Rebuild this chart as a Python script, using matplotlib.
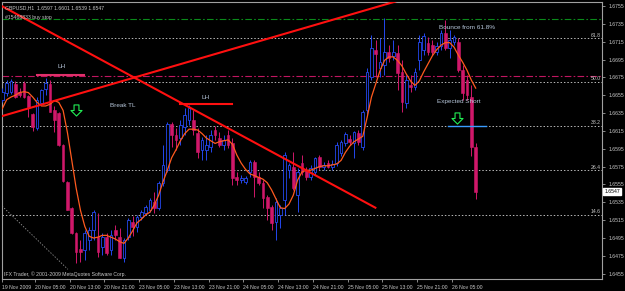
import matplotlib
matplotlib.use("Agg")
import matplotlib.pyplot as plt
import numpy as np
from matplotlib.path import Path

# ---------------- data ----------------
opens = [1.6650, 1.6658, 1.6659, 1.6668, 1.6659, 1.6669, 1.6654, 1.6634, 1.6618, 1.6646,
         1.6662, 1.6668, 1.6638, 1.6635, 1.6599, 1.6558, 1.6529, 1.6501, 1.6483, 1.6482,
         1.6493, 1.6504, 1.6496, 1.6485, 1.6496, 1.6482, 1.6504, 1.6496, 1.6473, 1.6496,
         1.6513, 1.6507, 1.6519, 1.6523, 1.6526, 1.6535, 1.6529, 1.6557, 1.6571, 1.6623,
         1.6610, 1.6607, 1.6619, 1.6627, 1.6627, 1.6613, 1.6594, 1.6594, 1.6597, 1.6616,
         1.6607, 1.6599, 1.6610, 1.6601, 1.6563, 1.6560, 1.6558, 1.6569, 1.6580, 1.6563,
         1.6557, 1.6541, 1.6530, 1.6513, 1.6521, 1.6538, 1.6571, 1.6575, 1.6543, 1.6579,
         1.6571, 1.6563, 1.6569, 1.6586, 1.6575, 1.6579, 1.6575, 1.6579, 1.6590, 1.6601,
         1.6606, 1.6601, 1.6613, 1.6597, 1.6638, 1.6675, 1.6706, 1.6686, 1.6689, 1.6703,
         1.6699, 1.6702, 1.6681, 1.6646, 1.6666, 1.6664, 1.6694, 1.6706, 1.6714, 1.6711,
         1.6703, 1.6710, 1.6725, 1.6708, 1.6715, 1.6715, 1.6683, 1.6672, 1.6653, 1.6597]
highs = [1.6663, 1.6672, 1.6673, 1.6671, 1.6663, 1.6671, 1.6655, 1.6635, 1.6653, 1.6662,
         1.6674, 1.6672, 1.6643, 1.6636, 1.6600, 1.6559, 1.6530, 1.6502, 1.6493, 1.6504,
         1.6507, 1.6526, 1.6523, 1.6501, 1.6501, 1.6504, 1.6510, 1.6506, 1.6495, 1.6517,
         1.6520, 1.6521, 1.6526, 1.6532, 1.6540, 1.6547, 1.6559, 1.6599, 1.6625, 1.6625,
         1.6618, 1.6627, 1.6641, 1.6644, 1.6638, 1.6618, 1.6608, 1.6610, 1.6616, 1.6621,
         1.6614, 1.6610, 1.6616, 1.6607, 1.6569, 1.6566, 1.6565, 1.6582, 1.6582, 1.6569,
         1.6560, 1.6543, 1.6532, 1.6540, 1.6532, 1.6591, 1.6579, 1.6591, 1.6573, 1.6588,
         1.6575, 1.6577, 1.6586, 1.6588, 1.6580, 1.6582, 1.6582, 1.6603, 1.6605, 1.6614,
         1.6610, 1.6615, 1.6616, 1.6638, 1.6686, 1.6722, 1.6717, 1.6719, 1.6742, 1.6711,
         1.6717, 1.6711, 1.6694, 1.6678, 1.6678, 1.6686, 1.6722, 1.6725, 1.6720, 1.6717,
         1.6715, 1.6728, 1.6739, 1.6728, 1.6722, 1.6719, 1.6689, 1.6678, 1.6666, 1.6601]
lows = [1.6647, 1.6654, 1.6656, 1.6652, 1.6653, 1.6652, 1.6631, 1.6615, 1.6616, 1.6644,
        1.6655, 1.6636, 1.6614, 1.6598, 1.6558, 1.6526, 1.6500, 1.6467, 1.6468, 1.6470,
        1.6482, 1.6493, 1.6474, 1.6476, 1.6476, 1.6476, 1.6493, 1.6473, 1.6468, 1.6493,
        1.6497, 1.6502, 1.6515, 1.6521, 1.6524, 1.6523, 1.6526, 1.6553, 1.6569, 1.6597,
        1.6594, 1.6599, 1.6610, 1.6622, 1.6610, 1.6585, 1.6582, 1.6582, 1.6591, 1.6605,
        1.6597, 1.6594, 1.6596, 1.6554, 1.6554, 1.6557, 1.6556, 1.6563, 1.6541, 1.6554,
        1.6529, 1.6515, 1.6504, 1.6493, 1.6506, 1.6521, 1.6562, 1.6549, 1.6524, 1.6566,
        1.6560, 1.6560, 1.6566, 1.6571, 1.6571, 1.6573, 1.6571, 1.6576, 1.6587, 1.6598,
        1.6599, 1.6585, 1.6599, 1.6594, 1.6633, 1.6672, 1.6675, 1.6675, 1.6678, 1.6692,
        1.6694, 1.6661, 1.6636, 1.6641, 1.6659, 1.6661, 1.6683, 1.6700, 1.6700, 1.6700,
        1.6700, 1.6706, 1.6706, 1.6697, 1.6711, 1.6681, 1.6650, 1.6650, 1.6587, 1.6539]
closes = [1.6659, 1.6669, 1.6671, 1.6653, 1.6655, 1.6653, 1.6642, 1.6619, 1.6650, 1.6661,
          1.6669, 1.6636, 1.6627, 1.6599, 1.6559, 1.6526, 1.6501, 1.6479, 1.6479, 1.6501,
          1.6504, 1.6524, 1.6479, 1.6496, 1.6478, 1.6498, 1.6498, 1.6473, 1.6493, 1.6515,
          1.6507, 1.6519, 1.6524, 1.6530, 1.6538, 1.6529, 1.6557, 1.6577, 1.6623, 1.6610,
          1.6605, 1.6622, 1.6633, 1.6641, 1.6616, 1.6591, 1.6605, 1.6599, 1.6610, 1.6610,
          1.6599, 1.6605, 1.6599, 1.6562, 1.6560, 1.6562, 1.6562, 1.6580, 1.6563, 1.6557,
          1.6540, 1.6529, 1.6512, 1.6535, 1.6529, 1.6588, 1.6577, 1.6551, 1.6569, 1.6569,
          1.6563, 1.6573, 1.6585, 1.6575, 1.6577, 1.6575, 1.6578, 1.6599, 1.6603, 1.6612,
          1.6603, 1.6614, 1.6603, 1.6636, 1.6681, 1.6708, 1.6701, 1.6692, 1.6703, 1.6697,
          1.6703, 1.6680, 1.6647, 1.6672, 1.6664, 1.6681, 1.6715, 1.6721, 1.6703, 1.6703,
          1.6710, 1.6725, 1.6708, 1.6717, 1.6720, 1.6683, 1.6658, 1.6655, 1.6597, 1.6547]
ma = [1.6640, 1.6650, 1.6653, 1.6655, 1.6658, 1.6659, 1.6658, 1.6653, 1.6647, 1.6643,
      1.6643, 1.6645, 1.6649, 1.6647, 1.6638, 1.6613, 1.6582, 1.6551, 1.6526, 1.6508,
      1.6497, 1.6495, 1.6496, 1.6498, 1.6498, 1.6496, 1.6494, 1.6491, 1.6489, 1.6495,
      1.6503, 1.6512, 1.6516, 1.6521, 1.6524, 1.6532, 1.6543, 1.6558, 1.6571, 1.6585,
      1.6594, 1.6604, 1.6612, 1.6617, 1.6617, 1.6616, 1.6612, 1.6607, 1.6604, 1.6601,
      1.6603, 1.6604, 1.6605, 1.6600, 1.6588, 1.6579, 1.6572, 1.6567, 1.6565, 1.6563,
      1.6561, 1.6557, 1.6549, 1.6539, 1.6529, 1.6528, 1.6533, 1.6543, 1.6560, 1.6569,
      1.6571, 1.6571, 1.6573, 1.6575, 1.6576, 1.6576, 1.6577, 1.6578, 1.6582, 1.6591,
      1.6598, 1.6603, 1.6606, 1.6609, 1.6630, 1.6653, 1.6668, 1.6683, 1.6694, 1.6698,
      1.6698, 1.6694, 1.6688, 1.6679, 1.6671, 1.6666, 1.6671, 1.6681, 1.6690, 1.6699,
      1.6706, 1.6711, 1.6714, 1.6714, 1.6709, 1.6700, 1.6692, 1.6683, 1.6672, 1.6663]

time_labels = ['19 Nov 2009', '20 Nov 05:00', '20 Nov 13:00', '20 Nov 21:00', '23 Nov 05:00',
               '23 Nov 13:00', '23 Nov 21:00', '24 Nov 05:00', '24 Nov 13:00', '24 Nov 21:00',
               '25 Nov 05:00', '25 Nov 13:00', '25 Nov 21:00', '26 Nov 05:00']
price_ticks = [1.6755, 1.6735, 1.6715, 1.6695, 1.6675, 1.6655, 1.6635, 1.6615,
               1.6595, 1.6575, 1.6555, 1.6535, 1.6515, 1.6495, 1.6475, 1.6455]

fib_levels = [1.6719, 1.6670, 1.6621, 1.6571, 1.6521]
fib_labels = ['61.8', '50.0', '38.2', '26.4', '14.6']
green_level = 1.6741
crimson_level = 1.6677

# drawn objects (bar index, price)
tl_fall = ([-0.53, 85.9], [1.6756, 1.6529])
tl_rise = ([-0.53, 90.5], [1.6631, 1.6760])
fib_trend = ([-0.53, 15.1], [1.6533, 1.6460])
lh1 = ([7.9, 18.9], [1.6678, 1.6678])
lh2 = ([40.9, 53.0], [1.6645, 1.6645])
short_line = ([102.7, 111.4], [1.6620, 1.6620])
arrows = ([16.9, 104.8], [1.6638, 1.6630])

# ---------------- figure ----------------
plt.rcParams['font.family'] = ['Liberation Sans', 'DejaVu Sans']
W, H = 625, 291
fig = plt.figure(figsize=(W / 100, H / 100), dpi=100, facecolor='black')
ax = fig.add_axes([2 / W, 1 - 279 / H, 600 / W, 277 / H], facecolor='black')

x0 = -0.07
ax.set_xlim(x0, x0 + 600 / 4.343)
ax.set_ylim(1.64491, 1.67595)

BULL = '#2448f0'
BEAR = '#d0186a'
TXT = '#c8c8c8'
FS = 3.7

n = len(closes)
xs = np.arange(n)
o = np.array(opens); c = np.array(closes); h = np.array(highs); l = np.array(lows)
bull = c >= o

# fibo / levels
for lv, lb in zip(fib_levels, fib_labels):
    ax.axhline(lv, color='#b8b8b8', lw=0.7, ls=(0, (1.5, 2)), zorder=1)
    ax.text(137.8, lv + 0.00005, lb, color=TXT, fontsize=FS, ha='right', va='bottom', zorder=6)
ax.axhline(green_level, color='#0a8a1a', lw=0.8, ls=(0, (6, 2, 1.5, 2)), zorder=1)
ax.axhline(crimson_level, color='#c01660', lw=0.8, ls=(0, (6, 2, 1.5, 2)), zorder=1)
ax.plot(*fib_trend, color='#a0a0a0', lw=0.6, ls=(0, (1.5, 2)), zorder=1)

# candles
ax.vlines(xs[bull], l[bull], h[bull], color=BULL, lw=0.7, zorder=3)
ax.vlines(xs[~bull], l[~bull], h[~bull], color=BEAR, lw=0.7, zorder=3)
bh = np.maximum(np.abs(c - o), 0.00004)
ax.bar(xs[bull], bh[bull], bottom=o[bull], width=0.62, facecolor='black',
       edgecolor=BULL, lw=0.6, zorder=4)
ax.bar(xs[~bull], bh[~bull], bottom=c[~bull], width=0.62, facecolor=BEAR,
       edgecolor=BEAR, lw=0.4, zorder=4)

# moving average
ax.plot(xs, ma, color='#ff5a1e', lw=0.9, zorder=5)

# trend lines
ax.plot(*tl_fall, color='#ff1010', lw=1.5, zorder=6)
ax.plot(*tl_rise, color='#ff1010', lw=1.5, zorder=6)
ax.plot(*lh1, color='#e0306a', lw=1.5, zorder=6)
ax.plot(*lh2, color='#ff1010', lw=1.5, zorder=6)
ax.plot(*short_line, color='#3a9cff', lw=1.0, zorder=6)

# hollow down arrows
verts = [(-0.22, 0.5), (0.22, 0.5), (0.22, 0.0), (0.5, 0.0), (0.0, -0.5),
         (-0.5, 0.0), (-0.22, 0.0), (-0.22, 0.5)]
arrow_marker = Path(verts, closed=True)
ax.plot(*arrows, ls='none', marker=arrow_marker, ms=8, mfc='none', mec='#22ee55', mew=0.8, zorder=7)

# annotations
LBL = '#b8c8dc'
AFS = 4.6
ax.text(13.7, 1.6687, 'LH', color=LBL, fontsize=AFS, ha='center', va='center', zorder=7)
ax.text(46.8, 1.6653, 'LH', color=LBL, fontsize=AFS, ha='center', va='center', zorder=7)
ax.text(24.8, 1.6644, 'Break TL', color=LBL, fontsize=AFS, ha='left', va='center', zorder=7)
ax.text(100.2, 1.6648, 'Expected Short', color=LBL, fontsize=AFS, ha='left', va='center', zorder=7)
ax.text(100.6, 1.6731, 'Bounce from 61.8%', color=LBL, fontsize=AFS, ha='left', va='center', zorder=7)

# header / footer
ax.text(0.005, 0.988, 'GBPUSD,H1  1.6597 1.6601 1.6539 1.6547', transform=ax.transAxes,
        color=TXT, fontsize=FS, ha='left', va='top', zorder=8)
ax.text(0.005, 0.952, '#15468833 buy stop', transform=ax.transAxes,
        color=TXT, fontsize=FS, ha='left', va='top', zorder=8)
ax.text(0.004, 0.008, 'IFX Trader, © 2001-2009 MetaQuotes Software Corp.', transform=ax.transAxes,
        color=TXT, fontsize=FS, ha='left', va='bottom', zorder=8)

# axes styling
for s in ax.spines.values():
    s.set_color('#a0a0a0')
    s.set_linewidth(0.8)
ax.yaxis.tick_right()
ax.set_yticks(price_ticks)
ax.set_yticklabels([f'{p:.4f}' for p in price_ticks])
tick_pos = [max(x0, 8 * i - 0.5) for i in range(len(time_labels))]
ax.set_xticks(tick_pos)
ax.set_xticklabels(time_labels)
for t in ax.get_xticklabels():
    t.set_ha('left')
ax.tick_params(axis='both', colors='#a0a0a0', labelcolor=TXT, labelsize=FS,
               length=2.5, width=0.6, pad=1.5)
ax.tick_params(axis='y', pad=2.5)

# current price box
last = closes[-1]
ax.text(1.004, last, f'{last:.4f}', transform=ax.get_yaxis_transform(), color='black',
        fontsize=FS, ha='left', va='center', zorder=9,
        bbox=dict(boxstyle='square,pad=0.2', fc='white', ec='white'))

fig.savefig('out.png', dpi=100, facecolor='black')
